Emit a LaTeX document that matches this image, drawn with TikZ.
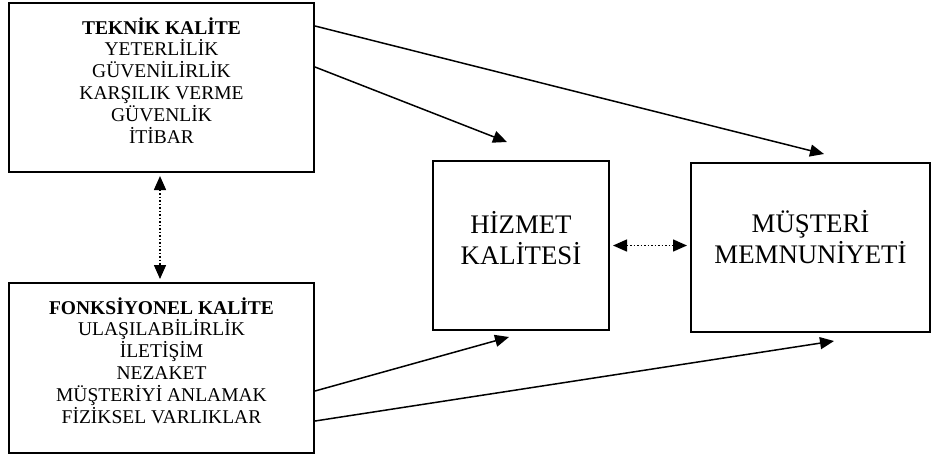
\documentclass[tikz,border=0pt]{standalone}
\usepackage{fontspec}
\setmainfont{Liberation Serif}
\usetikzlibrary{arrows.meta,positioning,calc}
\tikzset{
  kutu/.style={draw, line width=1pt, inner sep=0pt},
  liste/.style={align=center, inner sep=0pt, anchor=north,
    font=\fontsize{9.75}{10.9}\selectfont},
  ana/.style={align=center, font=\fontsize{13.4}{15.5}\selectfont},
  ok/.style={line width=.75pt, -{Triangle[length=7pt,width=6pt]}},
  cift/.style={line width=.75pt, densely dotted,
    {Triangle[length=7pt,width=6pt]}-{Triangle[length=7pt,width=6pt]}, shorten <=1.5pt, shorten >=1.5pt}
}
\begin{document}
\begin{tikzpicture}[x=0.5pt,y=-0.5pt]
\useasboundingbox (0,0) rectangle (932,457);
% kutular
\node[kutu, minimum width=152.5pt, minimum height=84.5pt] (teknik) at (161.5,87.5) {};
\node[kutu, minimum width=152.5pt, minimum height=85pt] (fonk) at (161.5,368) {};
\node[kutu, minimum width=88pt, minimum height=84.5pt] (hizmet) at (521,245.5) {};
\node[kutu, minimum width=119.5pt, minimum height=84.5pt] (musteri) at (810.5,247.5) {};
\node[ana] (hizmettxt) at ([yshift=3.5pt]hizmet.center) {H\.{I}ZMET\\KAL\.{I}TES\.{I}};
\node[ana] (musteritxt) at ([yshift=5pt]musteri.center) {MÜŞTER\.{I}\\MEMNUN\.{I}YET\.{I}};
% kutu yazilari
\node[liste] (teknikliste) at ([yshift=-7.5pt]teknik.north) {\textbf{TEKN\.{I}K KAL\.{I}TE}\\YETERL\.{I}L\.{I}K\\GÜVEN\.{I}L\.{I}RL\.{I}K\\KARŞILIK VERME\\GÜVENL\.{I}K\\\.{I}T\.{I}BAR};
\node[liste] (fonkliste) at ([yshift=-7.5pt]fonk.north) {\textbf{FONKS\.{I}YONEL KAL\.{I}TE}\\ULAŞILAB\.{I}L\.{I}RL\.{I}K\\\.{I}LET\.{I}Ş\.{I}M\\NEZAKET\\MÜŞTER\.{I}Y\.{I} ANLAMAK\\F\.{I}Z\.{I}KSEL VARLIKLAR};
% oklar
\draw[ok] ([yshift=-12pt]teknik.north east) -- ([xshift=67pt,yshift=4pt]musteri.north west);
\draw[ok] ([yshift=-32.5pt]teknik.north east) -- ([xshift=37.5pt,yshift=9pt]hizmet.north west);
\draw[ok] ([yshift=-54.5pt]fonk.north east) -- ([xshift=38.5pt,yshift=-3pt]hizmet.south west);
\draw[ok] ([yshift=-69.5pt]fonk.north east) -- ([xshift=72pt,yshift=-4pt]musteri.south west);
\draw[cift] ([xshift=-0.75pt]teknik.south) -- ([xshift=-0.75pt]fonk.north);
\draw[cift] (hizmet.east) -- (hizmet.east -| musteri.west);
\end{tikzpicture}
\end{document}
